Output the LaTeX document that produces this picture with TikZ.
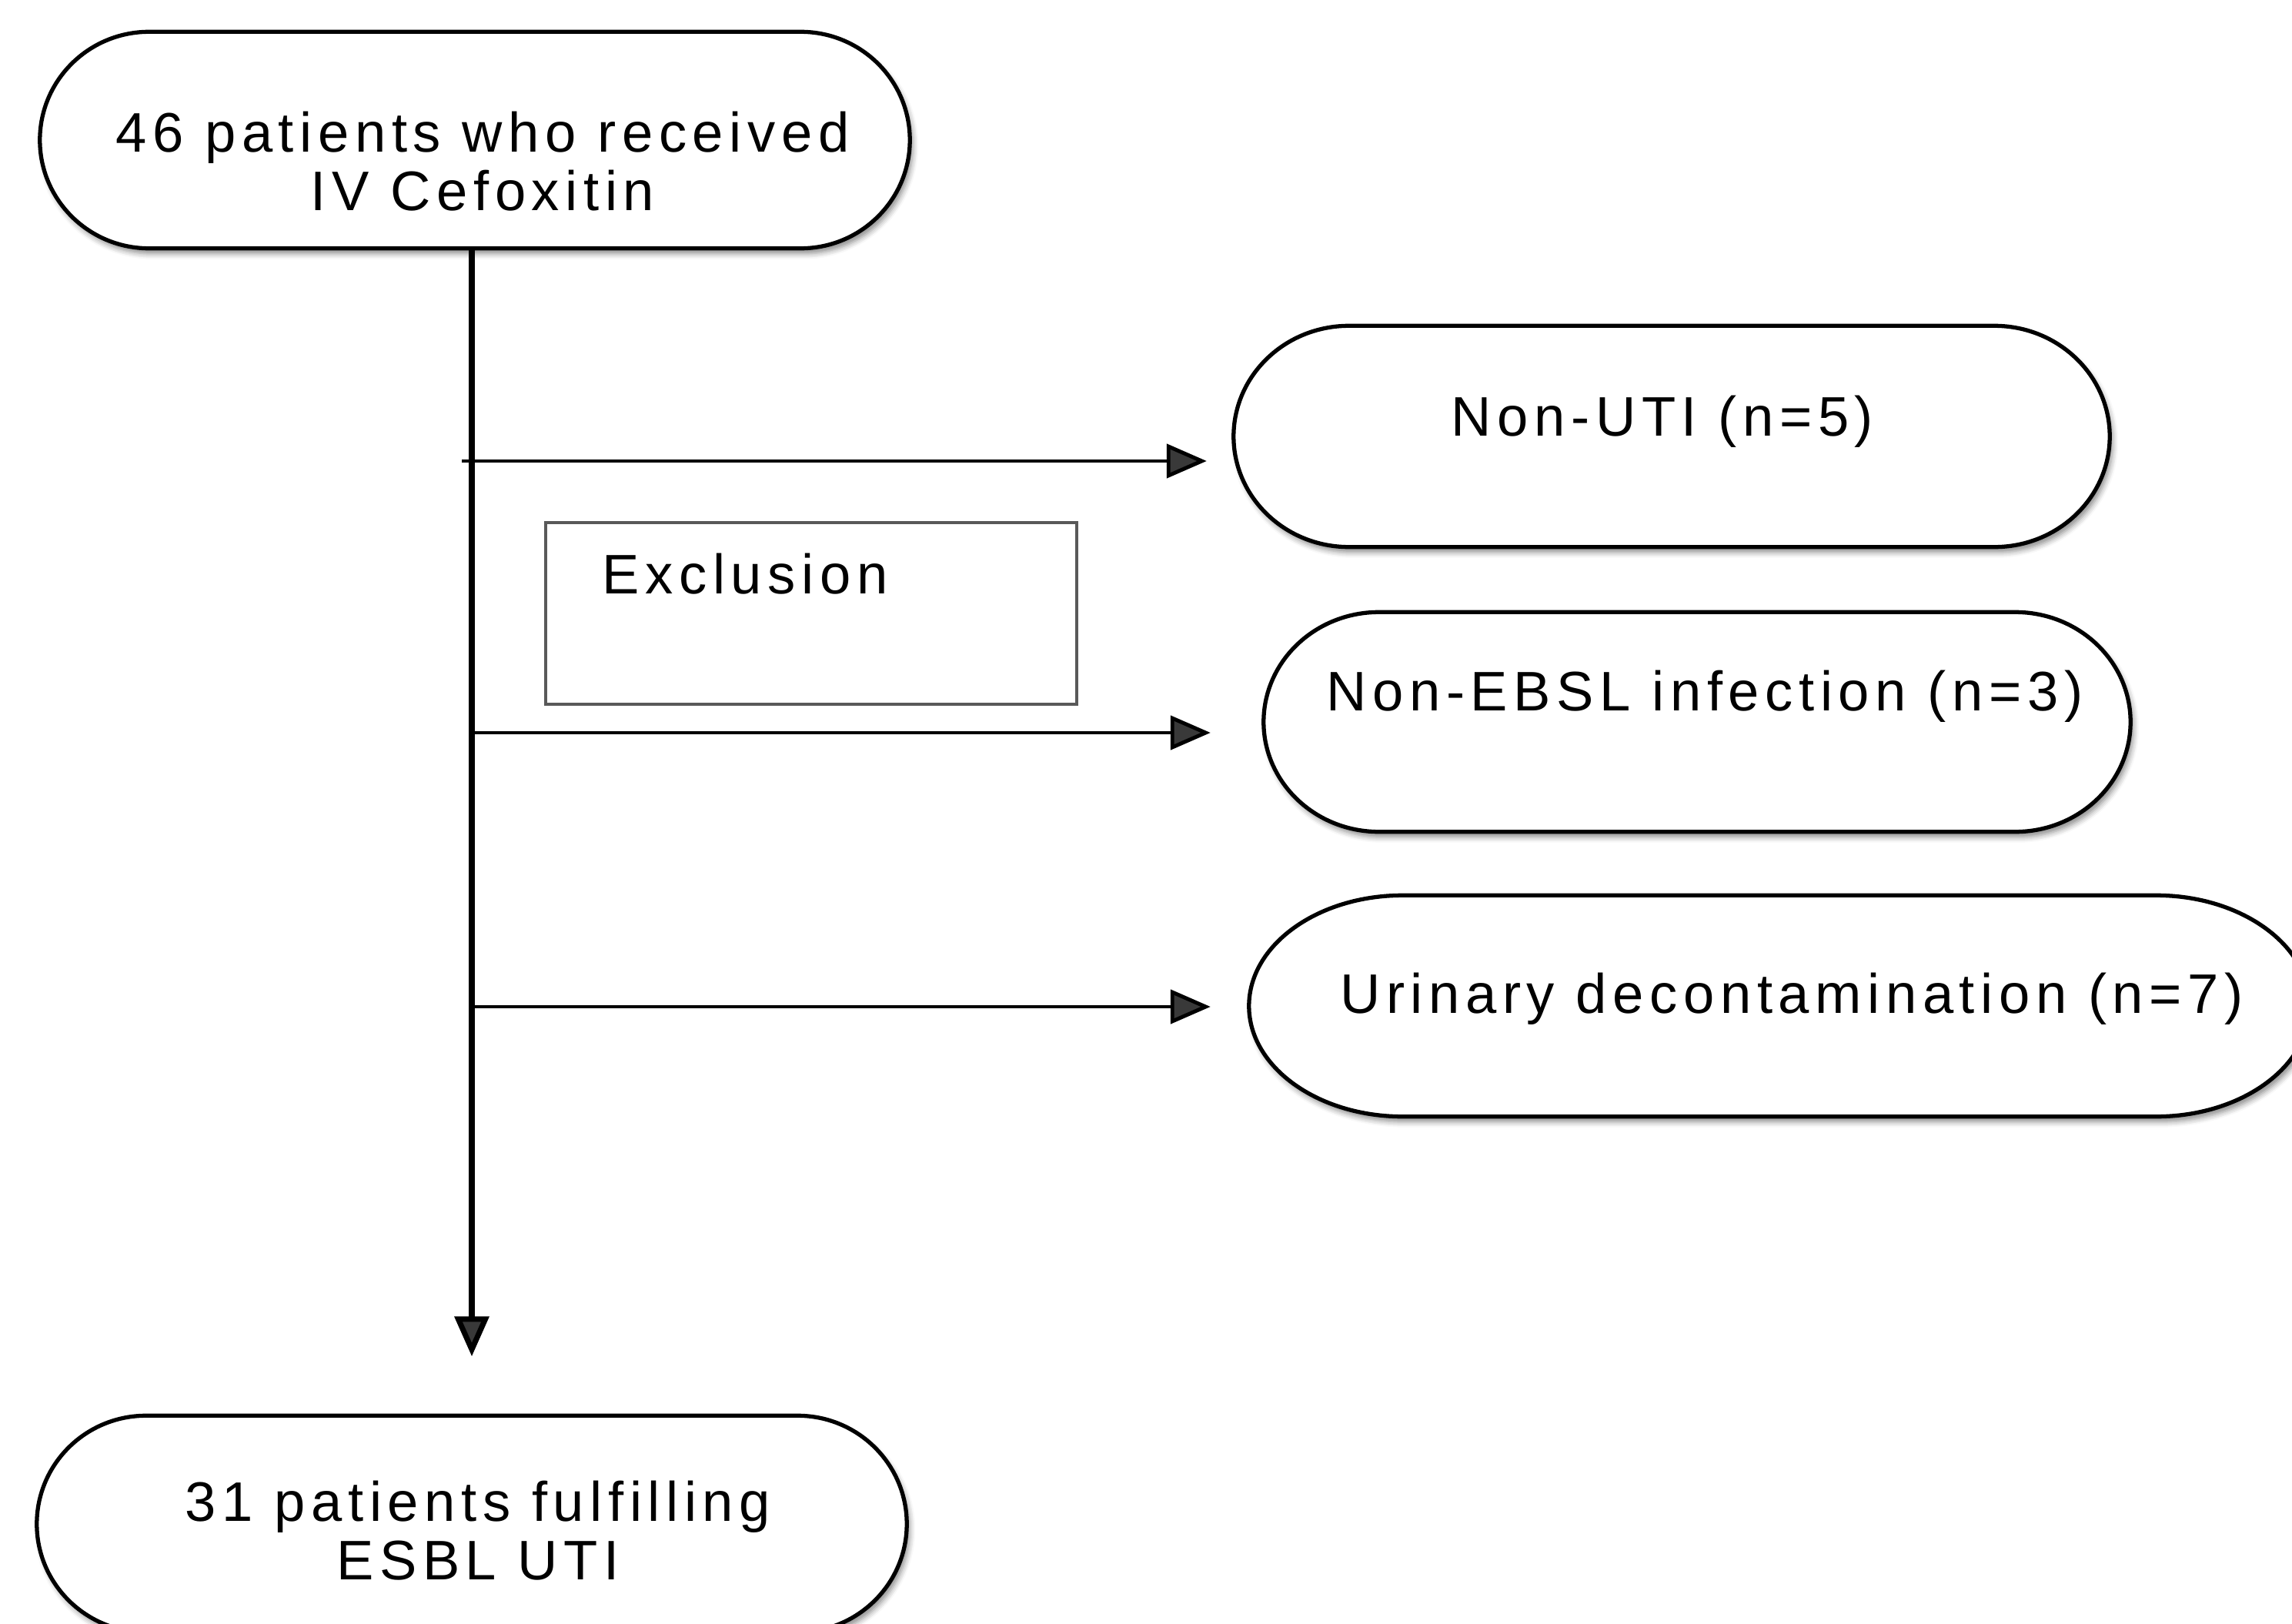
\documentclass[tikz,border=0pt]{standalone}
\usepackage{fontspec}
\setmainfont{Liberation Sans}[LetterSpace=10.5]
\usetikzlibrary{arrows.meta, calc, shadows.blur}

% outline of a box with flat top/bottom and elliptic ends
\newcommand{\capsule}[2]{%
    \draw[boxline] let \p1=(#1.north west), \p2=(#1.south east), \n1={(\y1-\y2)/2} in
        (\x1+#2,\y1) -- (\x2-#2,\y1) arc[start angle=90, end angle=-90, x radius=#2, y radius=\n1]
        -- (\x1+#2,\y2) arc[start angle=270, end angle=90, x radius=#2, y radius=\n1] -- cycle;
}

\begin{document}
\begin{tikzpicture}[
    boxline/.style={line width=1.5pt, fill=white, blur shadow={shadow xshift=0.04cm, shadow yshift=-0.07cm, shadow blur radius=0.07cm, shadow opacity=45}},
    frame/.style={rectangle, draw=none, inner sep=0pt},
    txt/.style={inner sep=0pt, align=center, font=\fontsize{20.6pt}{21.6pt}\selectfont},
    vline/.style={line width=2pt, -{Triangle[length=5.2mm, width=4.4mm]}},
    hline/.style={line width=1.4pt, -{Triangle[length=5.2mm, width=4.4mm]}}
]
    \useasboundingbox (0,0) rectangle (29.78,-21.10);
    \clip (0,0) rectangle (29.78,-21.10);

    \node[frame, minimum width=11.29cm, minimum height=2.80cm] (start) at (6.17,-1.82) {};
    \node[frame, minimum width=11.37cm, minimum height=2.86cm] (nonuti) at (21.72,-5.67) {};
    \node[frame, minimum width=11.25cm, minimum height=2.84cm] (nonesbl) at (22.05,-9.38) {};
    \node[frame, minimum width=13.77cm, minimum height=2.86cm] (urinary) at (23.12,-13.07) {};
    \node[frame, minimum width=11.29cm, minimum height=2.80cm] (final) at (6.13,-19.80) {};

    \capsule{start}{1.42cm}
    \capsule{nonuti}{1.5cm}
    \capsule{nonesbl}{1.5cm}
    \capsule{urinary}{2.0cm}
    \capsule{final}{1.42cm}

    \node[txt] (starttxt) at (6.27,-2.10) {46 patients who received\\IV Cefoxitin};
    \node[txt, anchor=base] (nonutitxt) at (21.60,-5.66) {Non-UTI (n=5)};
    \node[txt, anchor=base] (nonesbltxt) at (22.15,-9.23) {Non-EBSL infection (n=3)};
    \node[txt, anchor=base] (urinarytxt) at (23.28,-13.16) {Urinary decontamination (n=7)};
    \node[txt] (finaltxt) at (6.21,-19.89) {31 patients fulfilling\\ESBL UTI};

    \node[rectangle, draw=black!65, line width=1.2pt, minimum width=6.90cm, minimum height=2.36cm] (excl) at (10.54,-7.97) {};
    \node[txt, anchor=west] (excltxt) at (7.82,-7.46) {Exclusion};

    \coordinate (b1) at (6.00,-5.99);
    \coordinate (b2) at (6.13,-9.52);
    \coordinate (b3) at (6.13,-13.08);

    \draw[vline] (start.south -| final.north) -- ([yshift=7.7mm]final.north);
    \draw[hline, shorten >=3.5mm] (b1) -- (b1 -| nonuti.west);
    \draw[hline, shorten >=6.9mm] (b2) -- (b2 -| nonesbl.west);
    \draw[hline, shorten >=5.0mm] (b3) -- (b3 -| urinary.west);
\end{tikzpicture}
\end{document}
